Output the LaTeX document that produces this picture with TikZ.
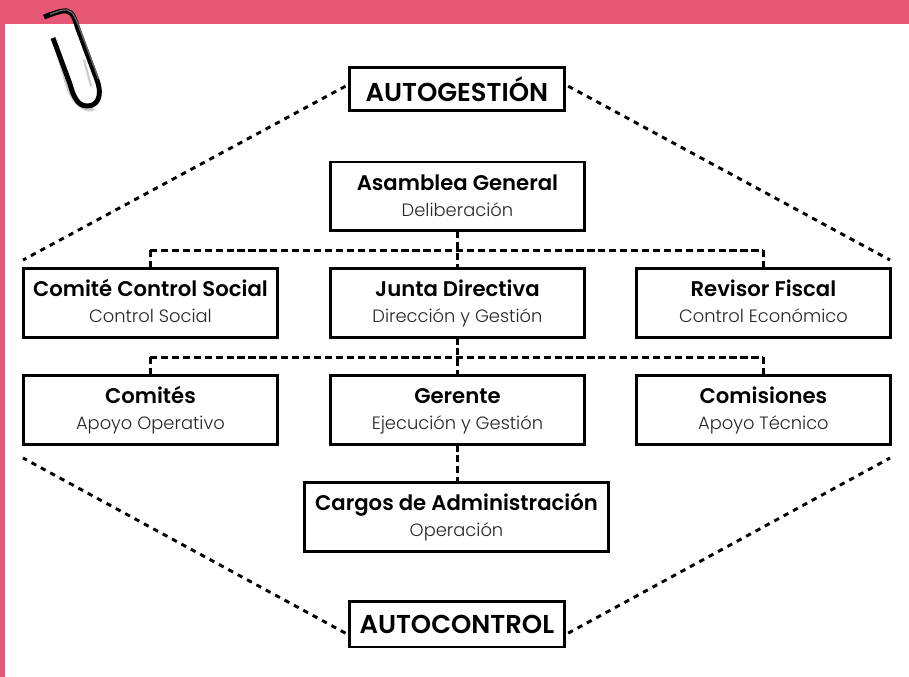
\documentclass[tikz,border=0pt]{standalone}
\usepackage{fontspec}
\setmainfont{Poppins Light}[BoldFont={Poppins SemiBold}]
\definecolor{rosa}{HTML}{E65675}
\tikzset{
  box/.style={draw=black,fill=white,line width=2pt,align=center,inner sep=0pt,outer sep=0pt,anchor=north west,minimum width=190.4pt,minimum height=51.6pt},
  conn/.style={line width=2.25pt,black,dash pattern=on 5.4pt off 2.8pt},
  diag/.style={line width=2.2pt,black,dash pattern=on 4pt off 4pt},
  ttl/.style={font=\fontsize{19.4}{22}\selectfont\bfseries,minimum width=161pt},
}
\newcommand{\twoline}[2]{{\fontsize{15.9}{18}\selectfont\bfseries\rule[-4pt]{0pt}{19.2pt}#1}\\[4pt]{\fontsize{13.4}{16}\selectfont\color{black!85}\rule[-5pt]{0pt}{14.3pt}#2}}
\begin{document}
\begin{tikzpicture}[x=0.75pt,y=-0.75pt]
\useasboundingbox (0,0) rectangle (909,677);
\fill[rosa] (0,0) rectangle (909,24);
\fill[rosa] (0,0) rectangle (4.5,677);
% nodes
\node[box,ttl,minimum height=32.5pt] (ag) at (349.5,67.5) {AUTOGESTIÓN};
\node[box] (as) at (330.5,162) {\twoline{Asamblea General}{Deliberación}};
\node[box] (cs) at (23.5,268.5) {\twoline{Comité Control Social}{Control Social}};
\node[box] (jd) at (330.5,268.5) {\twoline{Junta Directiva}{Dirección y Gestión}};
\node[box] (rf) at (636.5,268.5) {\twoline{Revisor Fiscal}{Control Económico}};
\node[box] (co) at (23.5,375.5) {\twoline{Comités}{Apoyo Operativo}};
\node[box] (ge) at (330.5,375.5) {\twoline{Gerente}{Ejecución y Gestión}};
\node[box] (cm) at (636.5,375.5) {\twoline{Comisiones}{Apoyo Técnico}};
\node[box,minimum width=228pt] (ca) at (304.5,482.5) {\twoline{Cargos de Administración}{Operación}};
\node[box,ttl,minimum height=34pt] (ac) at (349.5,601.5) {AUTOCONTROL};
% connectors
\coordinate (h1l) at (150,250); \coordinate (h1r) at (763,250);
\coordinate (h2l) at (150,357); \coordinate (h2r) at (763,357);
\draw[conn] (as.south) -- (jd.north);
\draw[conn] (h1l) -- (h1r);
\draw[conn] (h1l) -- (h1l |- cs.north);
\draw[conn] (h1r) -- (h1r |- rf.north);
\draw[conn] (jd.south) -- (ge.north);
\draw[conn] (h2l) -- (h2r);
\draw[conn] (h2l) -- (h2l |- co.north);
\draw[conn] (h2r) -- (h2r |- cm.north);
\draw[conn] (ge.south) -- (ge.south |- ca.north);
\coordinate (tl) at (23,260); \coordinate (tr) at (890,260);
\coordinate (bl) at (23,458); \coordinate (br) at (890,458);
\draw[diag] (ag.west) ++(-4,-3) -- (tl);
\draw[diag] (ag.east) ++(4,-3) -- (tr);
\draw[diag] (ac.west) ++(-4,9) -- (bl);
\draw[diag] (ac.east) ++(4,9) -- (br);
% paperclip
\draw[black!20,line width=3.5pt,line cap=round] (58,52) -- (68,86) .. controls (74,102) and (82,110) .. (92,109);
\draw[black!20,line width=1.6pt,line cap=round] (84,60) -- (91,86);
\draw[black,line width=3.7pt,line cap=butt,line join=round]
  (44,17) .. controls (52,14) and (62,10) .. (67,11) .. controls (73,12) and (75,20) .. (78,29)
  -- (97,80) .. controls (103,97) and (97,106) .. (87,106) .. controls (77,106) and (73,95) .. (70,84) -- (53,38);
\draw[black!60,line width=1pt] (50,14.5) .. controls (56,12) and (63,9.5) .. (67,10) .. controls (73,11) and (76,19) .. (79.5,28) -- (98.5,79);
\end{tikzpicture}
\end{document}
